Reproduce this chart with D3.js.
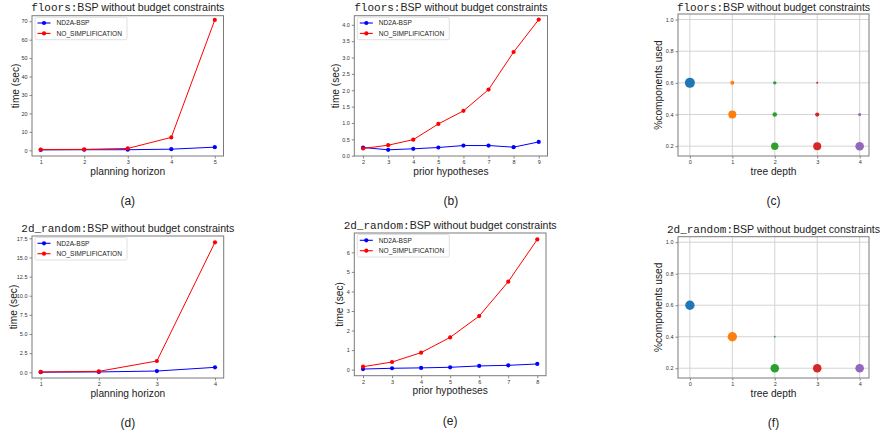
<!DOCTYPE html>
<html>
<head>
<meta charset="utf-8">
<script src="https://cdn.jsdelivr.net/npm/d3@7"></script>
<style>
  body { margin: 0; background: #fff; }
  svg { display: block; }
  text { font-family: "Liberation Sans", Arial, sans-serif; }
</style>
</head>
<body>
<div id="fig"></div>
<script>
// ---- data ----
const horizonFloors = [1, 2, 3, 4, 5];
const nd2aFloorsH = [0.2, 0.3, 0.3, 0.6, 1.7];
const noSimpFloorsH = [0.4, 0.5, 1.0, 7.0, 70.7];

const hypFloors = [2, 3, 4, 5, 6, 7, 8, 9];
const nd2aFloorsP = [0.25, 0.18, 0.21, 0.25, 0.31, 0.31, 0.26, 0.42];
const noSimpFloorsP = [0.22, 0.32, 0.49, 0.97, 1.37, 2.02, 3.17, 4.16];

const horizonRandom = [1, 2, 3, 4];
const nd2aRandomH = [0.02, 0.05, 0.17, 0.65];
const noSimpRandomH = [0.05, 0.13, 1.48, 16.98];

const hypRandom = [2, 3, 4, 5, 6, 7, 8];
const nd2aRandomP = [0.03, 0.07, 0.09, 0.12, 0.19, 0.22, 0.29];
const noSimpRandomP = [0.15, 0.39, 0.87, 1.65, 2.74, 4.50, 6.66];

// tree depth / fraction of components used / share of nodes (marker area)
const depthFloors = [0, 1, 1, 2, 2, 2, 3, 3, 3, 4, 4];
const usedFloors = [0.6, 0.6, 0.4, 0.6, 0.4, 0.2, 0.6, 0.4, 0.2, 0.4, 0.2];
const shareFloors = [1.0, 0.16, 0.64, 0.12, 0.21, 0.55, 0.04, 0.18, 0.64, 0.10, 0.74];

const depthRandom = [0, 1, 2, 2, 3, 4];
const usedRandom = [0.6, 0.4, 0.4, 0.2, 0.2, 0.2];
const shareRandom = [0.88, 0.88, 0.03, 0.74, 0.74, 0.74];

const seriesNames = ["ND2A-BSP", "NO_SIMPLIFICATION"];
const seriesColors = ["#0000ff", "#ff0000"];

const ticksA = [0, 10, 20, 30, 40, 50, 60, 70];
const ticksB = [0, 0.5, 1.0, 1.5, 2.0, 2.5, 3.0, 3.5, 4.0];
const ticksD = [0, 2.5, 5.0, 7.5, 10.0, 12.5, 15.0, 17.5];
const ticksE = [0, 1, 2, 3, 4, 5, 6];
const ticksUsed = [0.2, 0.4, 0.6, 0.8, 1.0];
const ticksDepth = [0, 1, 2, 3, 4];

const W = 880, H = 440;
const svg = d3.select("#fig").append("svg").attr("width", W).attr("height", H);

const spineColor = "#7a7a7a";
const tickText = "#333";

function drawTitle(g, cx, y, prefix) {
    const t = g.append("text")
        .attr("x", cx).attr("y", y)
        .attr("text-anchor", "middle")
        .attr("fill", "#222");
    t.append("tspan")
        .attr("font-family", "'Liberation Mono', monospace")
        .attr("font-size", "11px")
        .text(prefix);
    t.append("tspan")
        .attr("font-size", "10.6px")
        .text("BSP without budget constraints");
}

function drawAxes(g, box, x, y, xticks, yticks, xfmt, yfmt) {
    const xAxis = d3.axisBottom(x).tickValues(xticks).tickFormat(xfmt).tickSizeOuter(0).tickSize(2.5).tickPadding(2);
    const yAxis = d3.axisLeft(y).tickValues(yticks).tickFormat(yfmt).tickSizeOuter(0).tickSize(2.5).tickPadding(2);

    const gx = g.append("g").attr("transform", `translate(0,${box.bottom})`).call(xAxis);
    const gy = g.append("g").attr("transform", `translate(${box.left},0)`).call(yAxis);
    [gx, gy].forEach(a => {
        a.select(".domain").remove();
        a.selectAll("line").attr("stroke", "#555").attr("stroke-width", 0.7);
        a.selectAll("text").attr("font-size", "5.5px").attr("fill", tickText)
            .attr("font-family", "'DejaVu Sans', sans-serif");
    });

    g.append("rect")
        .attr("x", box.left).attr("y", box.top)
        .attr("width", box.right - box.left).attr("height", box.bottom - box.top)
        .attr("fill", "none").attr("stroke", spineColor).attr("stroke-width", 1);
}

function drawLabels(g, box, xlabel, ylabel, yOff, caption) {
    const cx = (box.left + box.right) / 2;
    g.append("text")
        .attr("x", cx).attr("y", box.bottom + 18.5)
        .attr("text-anchor", "middle").attr("font-size", "10.2px").attr("fill", "#222")
        .text(xlabel);
    const cy = (box.top + box.bottom) / 2;
    g.append("text")
        .attr("transform", `translate(${box.left - yOff},${cy}) rotate(-90)`)
        .attr("dy", "0.35em")
        .attr("text-anchor", "middle").attr("font-size", "10.2px").attr("fill", "#222")
        .text(ylabel);
    g.append("text")
        .attr("x", cx).attr("y", box.bottom + 49)
        .attr("text-anchor", "middle")
        .attr("font-family", "'DejaVu Serif', 'Liberation Serif', serif")
        .attr("font-size", "12px").attr("fill", "#222")
        .text(caption);
}

function linePanel(cfg) {
    const g = svg.append("g");
    const box = cfg.box;
    const x = d3.scaleLinear().domain(cfg.xdom).range([box.left, box.right]);
    const y = d3.scaleLinear().domain(cfg.ydom).range([box.bottom, box.top]);

    drawTitle(g, (box.left + box.right) / 2, box.top - 4.5, cfg.prefix);
    drawAxes(g, box, x, y, cfg.xs, cfg.yticks, d3.format("d"), cfg.yfmt);

    const line = d3.line().x(d => x(d[0])).y(d => y(d[1]));
    cfg.series.forEach((vals, i) => {
        const pts = cfg.xs.map((v, j) => [v, vals[j]]);
        g.append("path").datum(pts)
            .attr("d", line).attr("fill", "none")
            .attr("stroke", seriesColors[i]).attr("stroke-width", 1);
        g.selectAll(null).data(pts).enter().append("circle")
            .attr("cx", d => x(d[0])).attr("cy", d => y(d[1]))
            .attr("r", 2.1).attr("fill", seriesColors[i]);
    });

    // legend, upper left
    const lx = box.left + 3, ly = box.top + 1.5;
    const leg = g.append("g").attr("transform", `translate(${lx},${ly})`);
    leg.append("rect")
        .attr("width", 92).attr("height", 22.5).attr("rx", 1.5)
        .attr("fill", "#fff").attr("stroke", "#d8d8d8").attr("stroke-width", 0.8);
    seriesNames.forEach((name, i) => {
        const ry = 5.8 + i * 10.4;
        leg.append("line").attr("x1", 2.5).attr("x2", 15.5).attr("y1", ry).attr("y2", ry)
            .attr("stroke", seriesColors[i]).attr("stroke-width", 1.1);
        leg.append("circle").attr("cx", 9).attr("cy", ry).attr("r", 2.1).attr("fill", seriesColors[i]);
        leg.append("text").attr("x", 21.5).attr("y", ry).attr("dy", "0.35em")
            .attr("font-size", "6.6px").attr("fill", "#222").text(name);
    });

    drawLabels(g, box, cfg.xlabel, "time (sec)", cfg.yOff, cfg.caption);
}

function scatterPanel(cfg) {
    const g = svg.append("g");
    const box = cfg.box;
    const x = d3.scaleLinear().domain([-0.28, 4.22]).range([box.left, box.right]);
    const y = d3.scaleLinear().domain([0.138, 1.035]).range([box.bottom, box.top]);
    const r = d3.scaleSqrt().domain([0, 1]).range([0, 5]);
    const color = d3.scaleOrdinal().domain(ticksDepth).range(d3.schemeCategory10);

    drawTitle(g, (box.left + box.right) / 2, box.top - 3.5, cfg.prefix);

    const grid = g.append("g").attr("stroke", "#d4d4d4").attr("stroke-width", 1);
    ticksDepth.forEach(t => grid.append("line")
        .attr("x1", x(t)).attr("x2", x(t)).attr("y1", box.top).attr("y2", box.bottom));
    ticksUsed.forEach(t => grid.append("line")
        .attr("x1", box.left).attr("x2", box.right).attr("y1", y(t)).attr("y2", y(t)));

    drawAxes(g, box, x, y, ticksDepth, ticksUsed, d3.format("d"), d3.format(".1f"));

    const pts = cfg.depth.map((d, i) => ({ d: d, u: cfg.used[i], s: cfg.share[i] }));
    g.selectAll(null).data(pts).enter().append("circle")
        .attr("cx", p => x(p.d)).attr("cy", p => y(p.u))
        .attr("r", p => r(p.s)).attr("fill", p => color(p.d));

    drawLabels(g, box, "tree depth", "%components used", 20, cfg.caption);
}

linePanel({
    box: { left: 32, right: 223.5, top: 15.7, bottom: 156 },
    xdom: [0.8, 5.2], ydom: [-3.1, 73.0],
    xs: horizonFloors, series: [nd2aFloorsH, noSimpFloorsH],
    yticks: ticksA, yfmt: d3.format("d"),
    prefix: "floors:", xlabel: "planning horizon", yOff: 17, caption: "(a)"
});
linePanel({
    box: { left: 354.3, right: 547.5, top: 15.7, bottom: 156 },
    xdom: [1.65, 9.35], ydom: [-0.01, 4.28],
    xs: hypFloors, series: [nd2aFloorsP, noSimpFloorsP],
    yticks: ticksB, yfmt: d3.format(".1f"),
    prefix: "floors:", xlabel: "prior hypotheses", yOff: 19, caption: "(b)"
});
scatterPanel({
    box: { left: 678, right: 869, top: 14, bottom: 156 },
    depth: depthFloors, used: usedFloors, share: shareFloors,
    prefix: "floors:", caption: "(c)"
});
linePanel({
    box: { left: 32, right: 223.7, top: 236, bottom: 378 },
    xdom: [0.85, 4.15], ydom: [-0.74, 17.8],
    xs: horizonRandom, series: [nd2aRandomH, noSimpRandomH],
    yticks: ticksD, yfmt: d3.format(".1f"),
    prefix: "2d_random:", xlabel: "planning horizon", yOff: 19, caption: "(d)"
});
linePanel({
    box: { left: 354.3, right: 546, top: 233, bottom: 375.7 },
    xdom: [1.7, 8.3], ydom: [-0.31, 6.99],
    xs: hypRandom, series: [nd2aRandomP, noSimpRandomP],
    yticks: ticksE, yfmt: d3.format("d"),
    prefix: "2d_random:", xlabel: "prior hypotheses", yOff: 15, caption: "(e)"
});
scatterPanel({
    box: { left: 678, right: 869, top: 236.7, bottom: 378 },
    depth: depthRandom, used: usedRandom, share: shareRandom,
    prefix: "2d_random:", caption: "(f)"
});
</script>
</body>
</html>
